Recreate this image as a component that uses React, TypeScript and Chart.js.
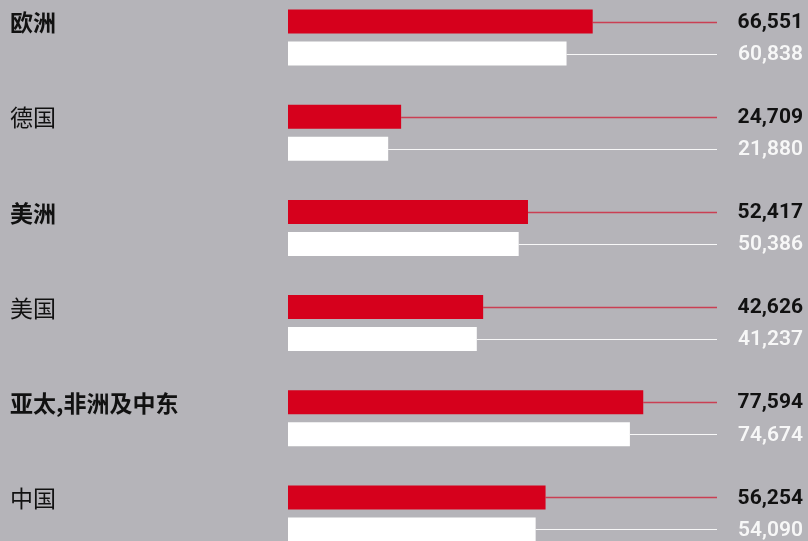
import React, { useEffect, useRef } from "react";
import { Chart, registerables } from "chart.js";

Chart.register(...registerables);

const categories = ["欧洲", "德国", "美洲", "美国", "亚太,非洲及中东", "中国"];
const boldCategories = ["欧洲", "美洲", "亚太,非洲及中东"];
const seriesRed = [66551, 24709, 52417, 42626, 77594, 56254];
const seriesWhite = [60838, 21880, 50386, 41237, 74674, 54090];

const BG = "#b5b4b9";
const RED = "#d6001c";
const WHITE = "#ffffff";

const fmt = (v: number) => v.toLocaleString("en-US");

const leaderPlugin = {
  id: "leaderLabels",
  afterDatasetsDraw(chart: any) {
    const { ctx, chartArea } = chart;
    chart.data.datasets.forEach((ds: any, di: number) => {
      const meta = chart.getDatasetMeta(di);
      meta.data.forEach((bar: any, i: number) => {
        const y = bar.y;
        ctx.save();
        ctx.beginPath();
        ctx.strokeStyle = di === 0 ? "rgba(214,0,28,0.65)" : "rgba(255,255,255,0.9)";
        ctx.lineWidth = di === 0 ? 1.5 : 1.2;
        ctx.moveTo(bar.x, Math.round(y) + 0.5);
        ctx.lineTo(chartArea.right, Math.round(y) + 0.5);
        ctx.stroke();
        ctx.fillStyle = di === 0 ? "#111111" : "#f7f7f7";
        ctx.font = (di === 0 ? "700" : "600") + " 21px Roboto";
        ctx.textAlign = "right";
        ctx.textBaseline = "middle";
        ctx.fillText(fmt(ds.data[i]), chart.width - 5, y + 1);
        ctx.restore();
      });
    });
  },
};

export default function App() {
  const canvasRef = useRef<HTMLCanvasElement | null>(null);

  useEffect(() => {
    document.body.style.margin = "0";
    document.body.style.background = BG;
    const chart = new Chart(canvasRef.current as HTMLCanvasElement, {
      type: "bar",
      data: {
        labels: categories,
        datasets: [
          {
            label: "red",
            data: seriesRed,
            backgroundColor: RED,
            borderWidth: 0,
            categoryPercentage: 0.673,
            barPercentage: 0.75,
          },
          {
            label: "white",
            data: seriesWhite,
            backgroundColor: WHITE,
            borderWidth: 0,
            categoryPercentage: 0.673,
            barPercentage: 0.75,
          },
        ],
      },
      options: {
        indexAxis: "y",
        animation: false,
        responsive: true,
        maintainAspectRatio: false,
        layout: { padding: { left: 10, right: 91, top: 0, bottom: 0 } },
        plugins: {
          legend: { display: false },
          tooltip: { enabled: false },
        },
        scales: {
          x: {
            display: false,
            min: 0,
            max: 93700,
          },
          y: {
            grid: { display: false, drawTicks: false },
            border: { display: false },
            afterFit: (scale: any) => {
              scale.width = 278;
              scale.paddingTop = 0;
              scale.paddingBottom = 0;
            },
            ticks: {
              crossAlign: "far",
              labelOffset: -15,
              color: "#111111",
              padding: 0,
              font: (c: any) => ({
                family: '"Noto Sans CJK SC"',
                size: 23,
                weight: boldCategories.includes(categories[c.index]) ? "bold" : "normal",
              }),
            },
          },
        },
      },
      plugins: [leaderPlugin],
    });
    return () => chart.destroy();
  }, []);

  return (
    <div style={{ position: "relative", width: 808, height: 541, overflow: "hidden", background: BG }}>
      <div style={{ position: "absolute", left: 0, top: -10, width: 808, height: 571 }}>
        <canvas ref={canvasRef} />
      </div>
    </div>
  );
}
